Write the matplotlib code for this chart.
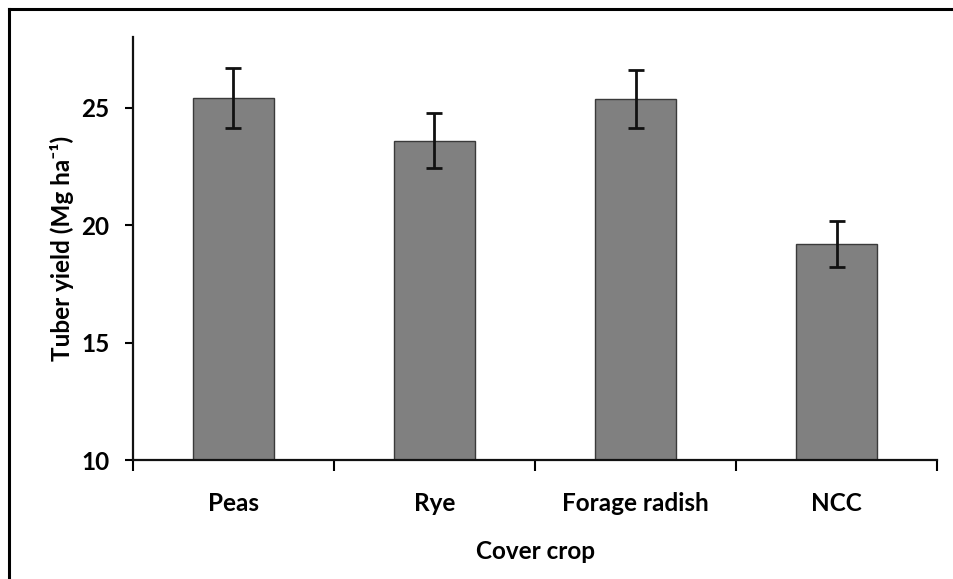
import matplotlib
matplotlib.use("Agg")
import matplotlib.pyplot as plt
from matplotlib.lines import Line2D

# Tuber yield by cover crop treatment (mean ± error)
crops = ["Peas", "Rye", "Forage radish", "NCC"]
yield_mean = [25.41, 23.60, 25.36, 19.20]
yield_err = [1.28, 1.17, 1.24, 0.98]
y_ticks = [10, 15, 20, 25]

plt.rcParams["font.family"] = ["Lato", "DejaVu Sans"]
plt.rcParams["font.weight"] = "bold"
FS = 17.5

fig = plt.figure(figsize=(9.54, 5.79), dpi=100)
ax = fig.add_axes([0.1394, 0.205, 0.8428, 0.731])

x = list(range(len(crops)))
ax.bar(x, yield_mean, width=0.40, color="#808080", edgecolor="#3a3a3a",
       linewidth=1.0, zorder=2)
ax.errorbar(x, yield_mean, yerr=yield_err, fmt="none", ecolor="#111111",
            elinewidth=2.0, capsize=5.5, capthick=2.0, zorder=3)

ax.set_xlim(-0.5, len(crops) - 0.5)
ax.set_ylim(10, 28)
ax.set_yticks(y_ticks)
ax.set_yticklabels([str(t) for t in y_ticks], fontsize=FS, fontweight="bold")

# category boundaries carry the tick marks, labels sit at bar centres
ax.set_xticks([i - 0.5 for i in range(len(crops) + 1)])
ax.set_xticklabels([])
ax.set_xticks(x, minor=True)
ax.set_xticklabels(crops, minor=True, fontsize=FS, fontweight="bold")
ax.tick_params(axis="x", which="minor", length=0, pad=23)
ax.tick_params(axis="x", which="major", length=8, width=1.5, direction="out")
ax.tick_params(axis="y", which="major", length=6, width=1.5, direction="out", pad=11)

for side in ("top", "right"):
    ax.spines[side].set_visible(False)
for side in ("left", "bottom"):
    ax.spines[side].set_linewidth(1.6)
    ax.spines[side].set_color("#111111")

ax.set_ylabel("Tuber yield (Mg ha\u207b\u00b9)", fontsize=FS,
              fontweight="bold", labelpad=5)
ax.set_xlabel("Cover crop", fontsize=FS, fontweight="bold", labelpad=18)

# chart-area frame (top and left edges)
fig.add_artist(Line2D([0.0095, 1.0], [1 - 8.5 / 579, 1 - 8.5 / 579],
                      transform=fig.transFigure, color="black", linewidth=2.2))
fig.add_artist(Line2D([0.0095, 0.0095], [0.0, 1 - 8.5 / 579],
                      transform=fig.transFigure, color="black", linewidth=2.2))

fig.savefig("out.png", dpi=100)
